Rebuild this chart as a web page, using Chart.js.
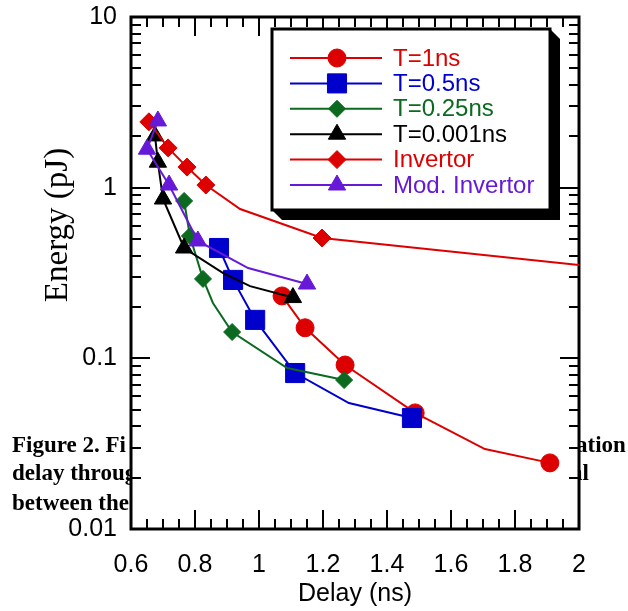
<!DOCTYPE html>
<html>
<head>
<meta charset="utf-8">
<script src="https://cdn.jsdelivr.net/npm/chart.js@4.4.1/dist/chart.umd.min.js"></script>
<style>
    html, body { margin: 0; padding: 0; background: #ffffff; }
    #wrap { width: 628px; height: 611px; }
</style>
</head>
<body>
<div id="wrap"><canvas id="energyChart" width="628" height="611"></canvas></div>
<script>
// Delay (ns) y Energy (pJ) leidos de la figura
// xxxSymbol: 1 = el punto lleva marcador, 0 = solo quiebre de la linea
const t1Delay   = [1.072, 1.144, 1.269, 1.488, 1.706, 1.909];
const t1Energy  = [0.232, 0.151, 0.0914, 0.0479, 0.0294, 0.0244];
const t1Symbol  = [1, 1, 1, 1, 0, 1];

const t05Delay  = [0.875, 0.919, 0.988, 1.113, 1.281, 1.478];
const t05Energy = [0.443, 0.288, 0.168, 0.082, 0.0547, 0.0447];
const t05Symbol = [1, 1, 1, 1, 0, 1];

const t025Delay  = [0.766, 0.784, 0.825, 0.856, 0.916, 1.088, 1.266];
const t025Energy = [0.836, 0.521, 0.292, 0.211, 0.1426, 0.0877, 0.0746];
const t025Symbol = [1, 1, 1, 0, 1, 0, 1];

const t0001Delay  = [0.675, 0.684, 0.700, 0.766, 0.888, 0.972, 1.106];
const t0001Energy = [2.01, 1.41, 0.858, 0.443, 0.316, 0.265, 0.227];
const t0001Symbol = [1, 1, 1, 1, 0, 0, 1];

const invDelay  = [0.656, 0.716, 0.775, 0.834, 0.941, 1.197, 2.0];
const invEnergy = [2.43, 1.71, 1.32, 1.036, 0.75, 0.507, 0.352];
const invSymbol = [1, 1, 1, 1, 0, 1, 0];

const modDelay  = [0.684, 0.650, 0.719, 0.809, 0.966, 1.150];
const modEnergy = [2.46, 1.68, 1.036, 0.487, 0.338, 0.2725];
const modSymbol = [1, 1, 1, 1, 0, 1];

const xTicks = [0.6, 0.8, 1, 1.2, 1.4, 1.6, 1.8, 2];
const yTicks = [0.01, 0.1, 1, 10];

// texto del pie de figura que queda tapado por el grafico
const captionLeft  = ['Figure 2. Fi', 'delay throug', 'between the'];
const captionRight = ['ation', 'al', ''];

const SANS = "'Liberation Sans', Arial, Helvetica, sans-serif";
const SERIF = "'Liberation Serif', 'Times New Roman', serif";

const serie = (label, delay, energy, symbol, color, pointStyle, radius, order) => ({
    label,
    data: delay.map((d, i) => ({ x: d, y: energy[i] })),
    borderColor: color,
    backgroundColor: color,
    borderWidth: 2,
    tension: 0,
    pointStyle,
    pointRadius: ctx => symbol[ctx.dataIndex] ? radius : 0,
    pointHoverRadius: ctx => symbol[ctx.dataIndex] ? radius : 0,
    pointBorderWidth: 1,
    legendRadius: radius,
    order,
})

const datasets = [
    serie('T=1ns', t1Delay, t1Energy, t1Symbol, '#dd0000', 'circle', 9, 6),
    serie('T=0.5ns', t05Delay, t05Energy, t05Symbol, '#0000cc', 'rect', 13.5, 5),
    serie('T=0.25ns', t025Delay, t025Energy, t025Symbol, '#0b6a1f', 'rectRot', 8.5, 4),
    serie('T=0.001ns', t0001Delay, t0001Energy, t0001Symbol, '#000000', 'triangle', 10, 3),
    serie('Invertor', invDelay, invEnergy, invSymbol, '#dd0000', 'rectRot', 9, 2),
    serie('Mod. Invertor', modDelay, modEnergy, modSymbol, '#6619d6', 'triangle', 10, 1),
]

// pie de figura detras del area del grafico, luego fondo blanco del area
const fondoPlugin = {
    id: 'fondo',
    beforeDraw(chart) {
        const { ctx, chartArea: a } = chart
        ctx.save()
        ctx.fillStyle = '#000'
        ctx.font = 'bold 23px ' + SERIF
        ctx.textBaseline = 'alphabetic'
        const base = [452, 480, 510]
        captionLeft.forEach((t, i) => { ctx.textAlign = 'left'; ctx.fillText(t, 12, base[i]) })
        ctx.fillText(captionRight[0], 576, base[0])
        ctx.textAlign = 'right'
        ctx.fillText(captionRight[1], 589, base[1])
        ctx.fillStyle = '#fff'
        ctx.fillRect(a.left, a.top, a.right - a.left, a.bottom - a.top)
        ctx.restore()
    },
    afterDraw(chart) {
        // titulo del eje y, algo por encima del centro como en la figura
        const { ctx } = chart
        ctx.save()
        ctx.translate(58, 225)
        ctx.rotate(-Math.PI / 2)
        ctx.fillStyle = '#000'
        ctx.font = '33px ' + SERIF
        ctx.textAlign = 'center'
        ctx.textBaseline = 'middle'
        ctx.fillText('Energy (pJ)', 0, 0)
        ctx.restore()
    }
}

// marco con marcas hacia adentro en los cuatro lados
const marcoPlugin = {
    id: 'marco',
    beforeDatasetsDraw(chart) {
        const { ctx, chartArea: a, scales: { x, y } } = chart
        const mayor = 19, menor = 10
        ctx.save()
        ctx.strokeStyle = '#000'
        ctx.lineWidth = 2
        ctx.beginPath()
        const marcaX = (v, len) => {
            const px = Math.round(x.getPixelForValue(v))
            ctx.moveTo(px, a.bottom); ctx.lineTo(px, a.bottom - len)
            ctx.moveTo(px, a.top); ctx.lineTo(px, a.top + len)
        }
        const marcaY = (v, len) => {
            const py = Math.round(y.getPixelForValue(v))
            ctx.moveTo(a.left, py); ctx.lineTo(a.left + len, py)
            ctx.moveTo(a.right, py); ctx.lineTo(a.right - len, py)
        }
        xTicks.forEach(v => marcaX(v, mayor))
        for (let i = 0; i < xTicks.length - 1; i++) {
            for (let k = 1; k < 4; k++) marcaX(xTicks[i] + k * 0.05, menor)
        }
        yTicks.forEach(v => marcaY(v, mayor))
        for (let i = 0; i < yTicks.length - 1; i++) {
            for (let k = 2; k < 10; k++) marcaY(yTicks[i] * k, menor)
        }
        ctx.stroke()
        ctx.lineWidth = 3
        ctx.strokeRect(a.left, a.top, a.right - a.left, a.bottom - a.top)
        ctx.restore()
    }
}

// leyenda con caja y sombra negra
const leyendaPlugin = {
    id: 'leyenda',
    afterDatasetsDraw(chart) {
        const { ctx } = chart
        const L = 272, T = 29, R = 550, B = 210, s = 10
        ctx.save()
        ctx.fillStyle = '#000'
        ctx.beginPath()
        ctx.moveTo(R, T); ctx.lineTo(R + s, T + s); ctx.lineTo(R + s, B + s)
        ctx.lineTo(L + s, B + s); ctx.lineTo(L, B); ctx.closePath()
        ctx.fill()
        ctx.fillStyle = '#fff'
        ctx.fillRect(L, T, R - L, B - T)
        ctx.strokeStyle = '#000'
        ctx.lineWidth = 3
        ctx.strokeRect(L, T, R - L, B - T)

        ctx.font = '24px ' + SANS
        ctx.textAlign = 'left'
        ctx.textBaseline = 'middle'
        chart.data.datasets.forEach((ds, i) => {
            const yy = 58 + i * 25.4
            ctx.strokeStyle = ds.borderColor
            ctx.fillStyle = ds.backgroundColor
            ctx.lineWidth = 2
            ctx.beginPath(); ctx.moveTo(290, yy); ctx.lineTo(382, yy); ctx.stroke()
            ctx.lineWidth = 1
            Chart.helpers.drawPoint(ctx, { pointStyle: ds.pointStyle, radius: ds.legendRadius, borderWidth: 1, rotation: 0 }, 337, yy)
            ctx.fillStyle = ds.borderColor
            ctx.fillText(ds.label, 393, yy + 1)
        })
        ctx.restore()
    }
}

const sinRelleno = s => { s.paddingTop = 0; s.paddingBottom = 0; s.paddingLeft = 0; s.paddingRight = 0 }

new Chart('energyChart', {
    type: 'line',
    data: { datasets },
    options: {
        responsive: false,
        animation: false,
        events: [],
        layout: { padding: { top: 17, right: 49, bottom: 0, left: 0 } },
        plugins: {
            legend: { display: false },
            tooltip: { enabled: false },
        },
        scales: {
            x: {
                type: 'linear',
                min: 0.6,
                max: 2,
                grid: { display: false, drawTicks: false },
                border: { display: false },
                afterBuildTicks: s => { s.ticks = xTicks.map(v => ({ value: v })) },
                afterFit: s => { s.height = 611 - 529; sinRelleno(s) },
                ticks: {
                    color: '#000',
                    padding: 21,
                    maxRotation: 0,
                    autoSkip: false,
                    font: { family: SANS, size: 25 },
                    callback: v => Number(v.toFixed(1)).toString(),
                },
                title: {
                    display: true,
                    text: 'Delay (ns)',
                    color: '#000',
                    font: { family: SANS, size: 25 },
                    padding: { top: 0, bottom: 2 },
                },
            },
            y: {
                type: 'logarithmic',
                min: 0.01,
                max: 10,
                grid: { display: false, drawTicks: false },
                border: { display: false },
                afterBuildTicks: s => { s.ticks = yTicks.map(v => ({ value: v })) },
                afterFit: s => { s.width = 131; sinRelleno(s) },
                ticks: {
                    color: '#000',
                    padding: 14,
                    autoSkip: false,
                    font: { family: SANS, size: 25 },
                    callback: v => String(v),
                },
            },
        },
    },
    plugins: [fondoPlugin, marcoPlugin, leyendaPlugin],
})
</script>
</body>
</html>
